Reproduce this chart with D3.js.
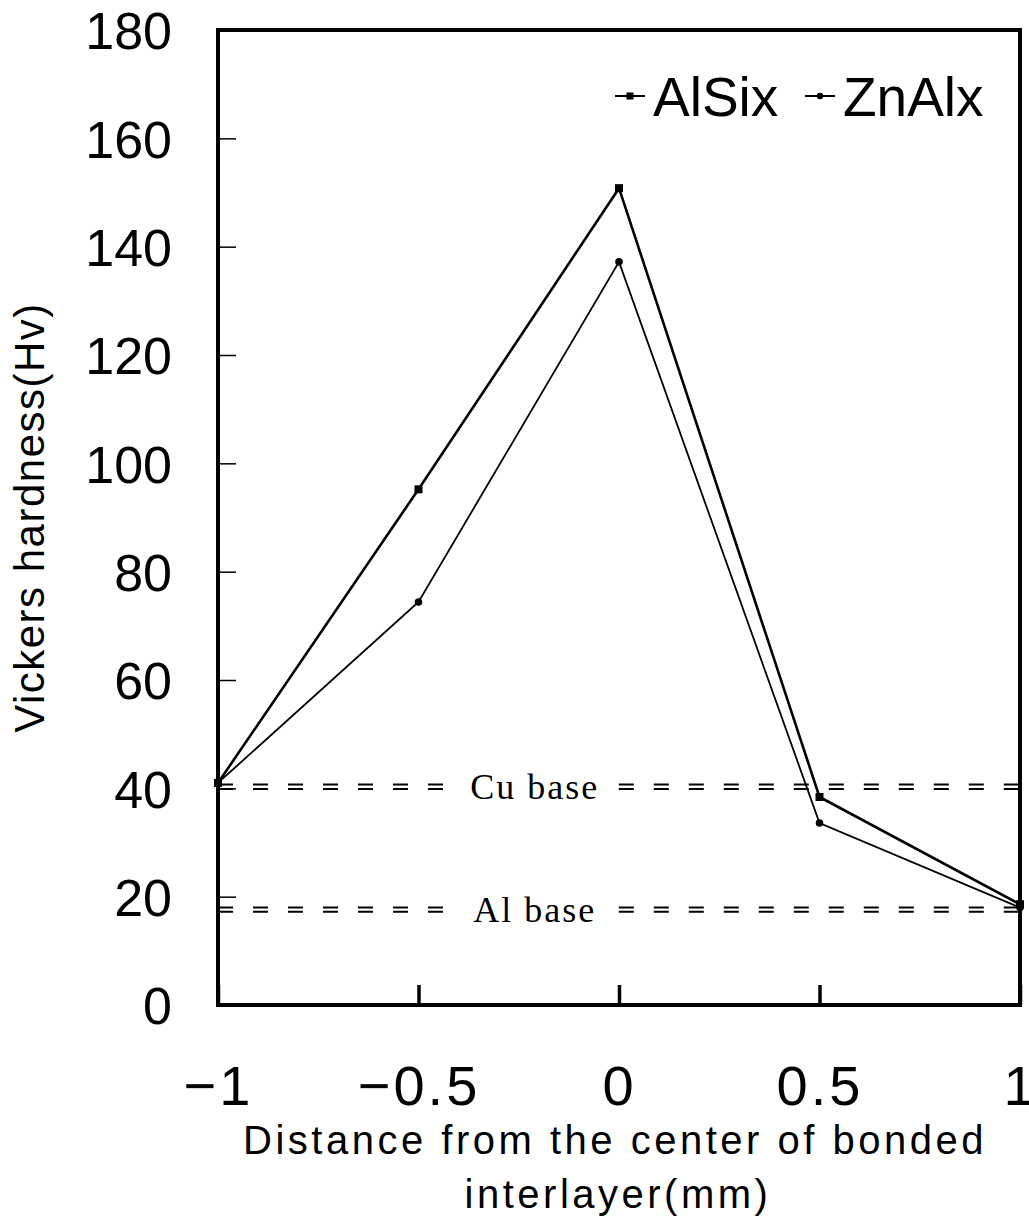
<!DOCTYPE html>
<html>
<head>
<meta charset="utf-8">
<script src="https://cdn.jsdelivr.net/npm/d3@7"></script>
<style>
  body { margin: 0; background: #fff; }
  svg { display: block; }
  text { font-family: "Liberation Sans", Arial, sans-serif; fill: #000; }
</style>
</head>
<body>
<svg id="main" width="1029" height="1218"></svg>
<script>
// values
var distances = [-1, -0.5, 0, 0.5, 1];
var alSix = [41, 95.2, 150.8, 38.4, 18.6];
var znAlx = [41, 74.4, 137.2, 33.6, 18.0];
var seriesNames = ["AlSix", "ZnAlx"];
var xTicks = [-1, -0.5, 0, 0.5, 1];
var yTicks = [0, 20, 40, 60, 80, 100, 120, 140, 160, 180];
var baseNames = ["Cu base", "Al base"];
var baseValues = [40.3, 17.6];

function drawChart() {
    var svg = d3.select("svg#main");
    var plotLeft = 218, plotRight = 1020, plotTop = 30, plotBottom = 1005;

    var x = d3.scaleLinear().domain([-1, 1]).range([plotLeft, plotRight]);
    var y = d3.scaleLinear().domain([0, 180]).range([plotBottom, plotTop]);

    // y axis ticks + labels
    var yAxis = d3.axisLeft(y).tickValues(yTicks).tickSize(-18).tickPadding(46)
        .tickFormat(d3.format("d"));
    var gy = svg.append("g").attr("transform", `translate(${plotLeft},0)`).call(yAxis);
    gy.select(".domain").remove();
    gy.selectAll(".tick line").attr("stroke", "#000").attr("stroke-width", 1.5);
    gy.selectAll(".tick text").attr("font-size", 52).attr("dy", "0.36em")
        .attr("fill", "#000")
        .style("font-family", "'Liberation Sans', Arial, sans-serif");

    // x axis ticks + labels
    var xAxis = d3.axisBottom(x).tickValues(xTicks).tickSize(-20).tickPadding(60)
        .tickFormat(d => d3.format("")(d).replace("-", "\u2212"));
    var gx = svg.append("g").attr("transform", `translate(0,${plotBottom})`).call(xAxis);
    gx.select(".domain").remove();
    gx.selectAll(".tick line").attr("stroke", "#000").attr("stroke-width", 3.5);
    gx.selectAll(".tick text").attr("font-size", 56).attr("dy", "0.71em")
        .attr("fill", "#000")
        .style("font-family", "'Liberation Sans', Arial, sans-serif")
        .style("letter-spacing", "3px");

    // frame
    svg.append("rect")
        .attr("x", plotLeft).attr("y", plotTop)
        .attr("width", plotRight - plotLeft).attr("height", plotBottom - plotTop)
        .attr("fill", "none").attr("stroke", "#000").attr("stroke-width", 4);

    // base reference lines (double dashed look)
    var labelX = x(-0.21);
    baseValues.forEach(function(v, i) {
        var yy = y(v);
        [[plotLeft, labelX - 88], [labelX + 84, plotRight]].forEach(function(seg) {
            [-2.2, 2.2].forEach(function(off) {
                svg.append("line")
                    .attr("x1", seg[0]).attr("x2", seg[1])
                    .attr("y1", yy + off).attr("y2", yy + off)
                    .attr("stroke", "#000").attr("stroke-width", 2)
                    .attr("stroke-dasharray", "15,20");
            });
        });
        svg.append("text")
            .attr("x", labelX).attr("y", yy)
            .attr("dy", "0.33em")
            .attr("text-anchor", "middle")
            .attr("font-size", 36)
            .style("font-family", "'Liberation Serif', 'DejaVu Serif', serif")
            .style("letter-spacing", "2px")
            .text(baseNames[i]);
    });

    // series
    var line = d3.line().x((d, i) => x(distances[i])).y(d => y(d));

    svg.append("path").datum(alSix)
        .attr("d", line).attr("fill", "none")
        .attr("stroke", "#000").attr("stroke-width", 2.6);
    svg.append("path").datum(znAlx)
        .attr("d", line).attr("fill", "none")
        .attr("stroke", "#000").attr("stroke-width", 1.8);

    svg.append("g").selectAll("rect").data(alSix).join("rect")
        .attr("x", (d, i) => x(distances[i]) - 4)
        .attr("y", d => y(d) - 4)
        .attr("width", 8).attr("height", 8)
        .attr("fill", "#000");
    svg.append("g").selectAll("circle").data(znAlx).join("circle")
        .attr("cx", (d, i) => x(distances[i]))
        .attr("cy", d => y(d))
        .attr("r", 3.8).attr("fill", "#000");

    // legend
    var legendY = 96;
    var legendX = [615, 805];
    seriesNames.forEach(function(name, i) {
        var lx = legendX[i];
        svg.append("line")
            .attr("x1", lx).attr("x2", lx + 30)
            .attr("y1", legendY).attr("y2", legendY)
            .attr("stroke", "#000").attr("stroke-width", 2);
        if (i === 0) {
            svg.append("rect").attr("x", lx + 11.5).attr("y", legendY - 3.5)
                .attr("width", 7).attr("height", 7).attr("fill", "#000");
        } else {
            svg.append("circle").attr("cx", lx + 15).attr("cy", legendY)
                .attr("r", 3.2).attr("fill", "#000");
        }
        svg.append("text")
            .attr("x", lx + 38).attr("y", legendY)
            .attr("dy", "0.36em")
            .attr("font-size", 55)
            .text(name);
    });

    // axis titles
    svg.append("text")
        .attr("transform", `translate(44,${(plotTop + plotBottom) / 2}) rotate(-90)`)
        .attr("text-anchor", "middle")
        .attr("font-size", 42)
        .style("letter-spacing", "1.5px")
        .text("Vickers hardness(Hv)");

    svg.append("text")
        .attr("x", 615).attr("y", 1154)
        .attr("text-anchor", "middle")
        .attr("font-size", 40)
        .style("letter-spacing", "3.5px")
        .text("Distance from the center of bonded");
    svg.append("text")
        .attr("x", 618).attr("y", 1208)
        .attr("text-anchor", "middle")
        .attr("font-size", 40)
        .style("letter-spacing", "3.5px")
        .text("interlayer(mm)");
}

drawChart();
</script>
</body>
</html>
